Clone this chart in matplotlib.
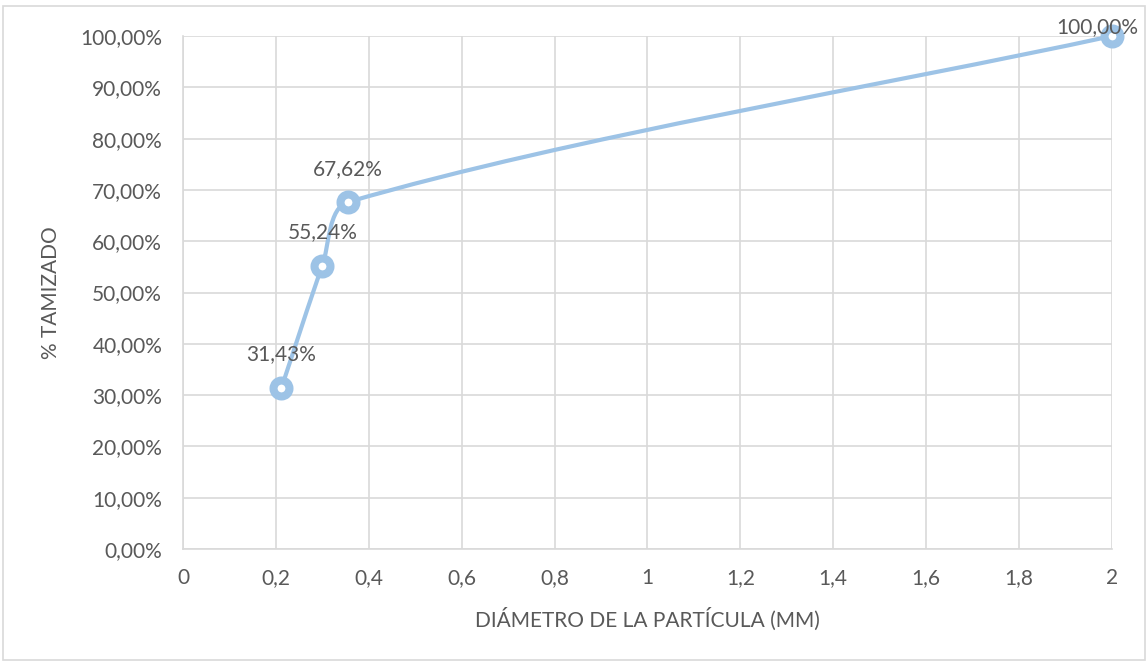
import matplotlib.pyplot as plt
import numpy as np
from matplotlib.patches import Rectangle, PathPatch
from matplotlib.path import Path

diametro = [0.212, 0.30, 0.355, 2.0]
tamizado = [31.43, 55.24, 67.62, 100.0]
etiquetas = ["31,43%", "55,24%", "67,62%", "100,00%"]

x_ticks = [0, 0.2, 0.4, 0.6, 0.8, 1.0, 1.2, 1.4, 1.6, 1.8, 2.0]
y_ticks = list(range(0, 101, 10))

LINE = "#9DC3E6"
TEXT = "#595959"
GRID = "#D9D9D9"
FS = 15

plt.rcParams["font.family"] = ["Lato", "DejaVu Sans"]

fig = plt.figure(figsize=(11.48, 6.62), dpi=100)
fig.patches.append(Rectangle((0.003, 0.003), 0.994, 0.988, transform=fig.transFigure,
                             fill=False, edgecolor=GRID, linewidth=1.2))
ax = fig.add_axes([0.1594, 0.1707, 0.8092, 0.7749])


def smooth_path(pts, k=0.3):
    # bezier smoothing, handles limited by the length of each segment
    pts = np.asarray(pts, dtype=float)
    n = len(pts)
    tang = []
    for i in range(n):
        a = pts[max(i - 1, 0)]
        b = pts[min(i + 1, n - 1)]
        d = b - a
        tang.append(d / np.hypot(*d))
    verts = [pts[0]]
    codes = [Path.MOVETO]
    for i in range(n - 1):
        p1, p2 = pts[i], pts[i + 1]
        seg = np.hypot(*(p2 - p1))
        verts += [p1 + tang[i] * seg * k, p2 - tang[i + 1] * seg * k, p2]
        codes += [Path.CURVE4] * 3
    return Path(verts, codes)


ax.set_xlim(0, 2)
ax.set_ylim(0, 100)
# smooth in display space so unequal axis scales don't distort it
disp = ax.transData.transform(np.column_stack([diametro, tamizado]))
path_data = ax.transData.inverted().transform_path(smooth_path(disp))
ax.add_patch(PathPatch(path_data, fill=False, edgecolor=LINE, linewidth=3, zorder=3,
                       capstyle="round", clip_on=False))

ax.plot(diametro, tamizado, linestyle="none", marker="o", markersize=11.5,
        markerfacecolor="white", markeredgecolor=LINE, markeredgewidth=5.8,
        zorder=4, clip_on=False)

for i, (x, y, lab) in enumerate(zip(diametro, tamizado, etiquetas)):
    if i == len(diametro) - 1:
        ax.annotate(lab, (x, y), xytext=(19, 6.5), textcoords="offset points",
                    ha="right", va="center", fontsize=FS, color=TEXT, zorder=5,
                    annotation_clip=False)
    else:
        ax.annotate(lab, (x, y), xytext=(0, 24), textcoords="offset points",
                    ha="center", va="center", fontsize=FS, color=TEXT, zorder=5)

ax.set_xticks(x_ticks)
ax.set_xticklabels([("%g" % v).replace(".", ",") for v in x_ticks])
ax.set_yticks(y_ticks)
ax.set_yticklabels([f"{v},00%" for v in y_ticks])
ax.tick_params(axis="y", length=0, labelsize=FS, labelcolor=TEXT, pad=15)
ax.tick_params(axis="x", length=0, labelsize=FS, labelcolor=TEXT, pad=14)
ax.grid(True, color=GRID, linewidth=1.2)
ax.set_axisbelow(True)
for s in ["top", "right"]:
    ax.spines[s].set_visible(False)
for s in ["left", "bottom"]:
    ax.spines[s].set_color(GRID)
    ax.spines[s].set_linewidth(1.2)

ax.set_xlabel("DIÁMETRO DE LA PARTÍCULA (MM)", fontsize=FS, color=TEXT, labelpad=14)
ax.set_ylabel("% TAMIZADO", fontsize=FS, color=TEXT, labelpad=14)

fig.savefig("out.png", dpi=100)
